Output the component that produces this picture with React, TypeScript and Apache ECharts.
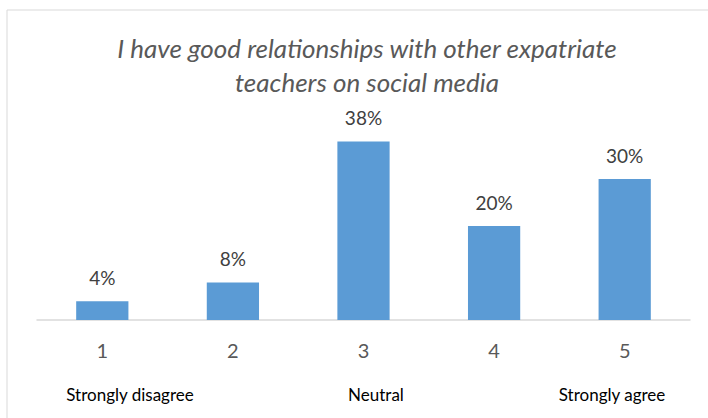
import React, { useEffect, useRef } from "react";
import * as echarts from "echarts";

const categories = ["1", "2", "3", "4", "5"];
const values = [4, 8, 38, 20, 30];
const titleLines = ["I have good relationships with other expatriate", "teachers on social media"];
const scaleLabels = ["Strongly disagree", "Neutral", "Strongly agree"];

export default function App() {
  const ref = useRef<HTMLDivElement>(null);
  useEffect(() => {
    if (!ref.current) return;
    const chart = echarts.init(ref.current, undefined, { renderer: "svg" });
    const font = "Lato, 'Open Sans', sans-serif";
    chart.setOption({
      animation: false,
      backgroundColor: "#ffffff",
      title: {
        text: titleLines.join("\n"),
        left: 362,
        textAlign: "center",
        top: 26,
        textStyle: {
          fontFamily: font,
          fontStyle: "italic",
          fontWeight: "normal",
          fontSize: 26,
          lineHeight: 34,
          color: "#595959",
        },
      },
      grid: { left: 37, right: 18, top: 132, bottom: 98 },
      xAxis: {
        type: "category",
        data: categories,
        axisLine: { lineStyle: { color: "#d9d9d9", width: 1.5 } },
        axisTick: { show: false },
        axisLabel: {
          margin: 20,
          fontSize: 20,
          fontFamily: font,
          color: "#595959",
        },
      },
      yAxis: {
        type: "value",
        min: 0,
        max: 40,
        show: false,
        splitLine: { show: false },
      },
      series: [
        {
          type: "bar",
          data: values,
          barWidth: "40%",
          itemStyle: { color: "#5b9bd5" },
          label: {
            show: true,
            position: "top",
            distance: 14,
            formatter: "{c}%",
            fontSize: 19,
            fontFamily: font,
            color: "#404040",
          },
        },
      ],
      graphic: [
        { type: "line", shape: { x1: 7, y1: 10, x2: 708, y2: 10 }, style: { stroke: "#d9d9d9", lineWidth: 1 } },
        { type: "line", shape: { x1: 7, y1: 10, x2: 7, y2: 418 }, style: { stroke: "#d9d9d9", lineWidth: 1 } },
        {
          type: "text",
          x: 130,
          y: 394,
          style: { text: scaleLabels[0], fontSize: 17, fontFamily: font, fill: "#000000", textAlign: "center", textVerticalAlign: "middle" },
        },
        {
          type: "text",
          x: 376,
          y: 394,
          style: { text: scaleLabels[1], fontSize: 17, fontFamily: font, fill: "#000000", textAlign: "center", textVerticalAlign: "middle" },
        },
        {
          type: "text",
          x: 612,
          y: 394,
          style: { text: scaleLabels[2], fontSize: 17, fontFamily: font, fill: "#000000", textAlign: "center", textVerticalAlign: "middle" },
        },
      ],
    });
    return () => chart.dispose();
  }, []);
  return <div ref={ref} style={{ position: "fixed", left: 0, top: 0, width: 708, height: 418 }} />;
}
